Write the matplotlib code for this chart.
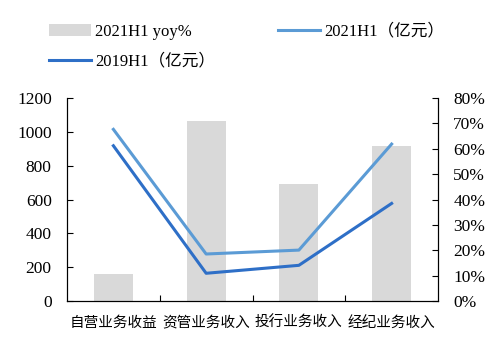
import matplotlib.pyplot as plt
import numpy as np
from matplotlib.ticker import FuncFormatter, FixedLocator

categories = ['自营业务收益', '资管业务收入', '投行业务收入', '经纪业务收入']
yoy_2021h1 = [10.5, 70.9, 46.1, 61.1]          # %
rev_2021h1 = [1015, 278, 301, 928]             # 亿元
rev_2019h1 = [918, 164, 211, 577]              # 亿元

serif = ['Liberation Serif', 'Noto Sans CJK SC']
cjk = ['Noto Sans CJK SC', 'DejaVu Sans']

fig = plt.figure(figsize=(5.02, 3.49), dpi=100)
ax = fig.add_axes([0.1335, 0.1375, 0.739, 0.5815])
ax2 = ax.twinx()

x = np.arange(len(categories))

# bars on the secondary axis, kept behind the lines
bars = ax2.bar(x, yoy_2021h1, width=0.42, color='#d9d9d9', label='2021H1 yoy%')
ax.set_zorder(ax2.get_zorder() + 1)
ax.patch.set_visible(False)

l21, = ax.plot(x, rev_2021h1, color='#5b9bd5', lw=2.2, label='2021H1（亿元）')
l19, = ax.plot(x, rev_2019h1, color='#2e6fc7', lw=2.2, label='2019H1（亿元）')

ax.set_xlim(-0.5, 3.5)
ax.set_ylim(0, 1200)
ax.set_yticks(np.arange(0, 1201, 200))
ax2.set_ylim(0, 80)
ax2.set_yticks(np.arange(0, 81, 10))
ax2.yaxis.set_major_formatter(FuncFormatter(lambda v, p: f'{int(v)}%'))

ax.set_xticks(x)
ax.set_xticklabels(categories, family=cjk, fontsize=10.5)
ax.tick_params(axis='x', length=0, pad=11)
ax.xaxis.set_minor_locator(FixedLocator([0.5, 1.5, 2.5]))
ax.tick_params(axis='x', which='minor', direction='in', length=4, width=0.8)

ax.tick_params(axis='y', direction='in', length=4, width=0.8, labelsize=12.5, pad=11)
ax2.tick_params(axis='y', direction='in', length=4, width=0.8, labelsize=12.5, pad=11)
for lab in ax.get_yticklabels() + ax2.get_yticklabels():
    lab.set_family(serif)

for a in (ax, ax2):
    a.spines['top'].set_visible(False)
    for s in ('left', 'right', 'bottom'):
        a.spines[s].set_linewidth(0.8)

fig.legend(handles=[bars, l19, l21],
           labels=['2021H1 yoy%', '2019H1（亿元）', '2021H1（亿元）'],
           ncol=2, loc='upper left', bbox_to_anchor=(0.068, 0.975),
           frameon=False, prop={'family': serif, 'size': 12},
           handlelength=2.5, handleheight=0.7, columnspacing=3.8,
           labelspacing=0.85, handletextpad=0.25)

fig.savefig('out.png', dpi=100)
